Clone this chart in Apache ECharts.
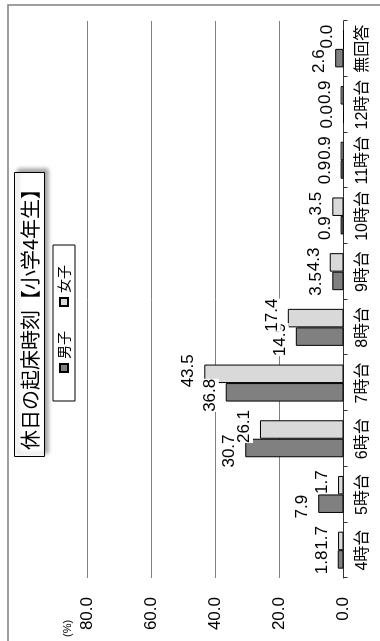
<!DOCTYPE html>
<html>
<head>
<meta charset="utf-8">
<script src="https://cdn.jsdelivr.net/npm/echarts@6/dist/echarts.min.js"></script>
<style>
  html, body { margin: 0; padding: 0; background: #fff; overflow: hidden; }
  /* the chart is drawn lying on its side, then turned upright */
  #chart {
    position: absolute;
    left: 0;
    top: 641px;
    width: 641px;
    height: 380px;
    transform-origin: 0 0;
    transform: rotate(-90deg);
  }
</style>
</head>
<body>
<div id="chart"></div>
<script>
  const categories = ['4時台', '5時台', '6時台', '7時台', '8時台', '9時台', '10時台', '11時台', '12時台', '無回答'];
  const boys  = [1.8, 7.9, 30.7, 36.8, 14.9, 3.5, 0.9, 0.9, 0.0, 2.6];
  const girls = [1.7, 1.7, 26.1, 43.5, 17.4, 4.3, 3.5, 0.9, 0.9, 0.0];
  const valueMin = 0, valueMax = 80, valueStep = 20;

  const font = "'Liberation Sans', 'Noto Sans CJK JP', sans-serif";
  const cjk = "'Noto Sans CJK JP', sans-serif";

  let chart = echarts.init(document.getElementById('chart'));

  // labels of the two bars in a pair are pushed apart a little so they don't overlap
  function barLabel(shift) {
    return {
      show: true,
      position: 'top',
      distance: 7,
      offset: [shift, 0],
      fontFamily: font,
      fontSize: 17,
      color: '#000',
      backgroundColor: '#fff',
      padding: 0,
      formatter: p => p.value.toFixed(1)
    };
  }

  let option = {
    animation: false,
    title: {
      text: '休日の起床時刻【小学4年生】',
      left: 184,
      top: 14,
      padding: [6, 7, 5, 7],
      backgroundColor: '#fff',
      borderColor: '#000',
      borderWidth: 1,
      shadowBlur: 4,
      shadowColor: 'rgba(0,0,0,0.35)',
      shadowOffsetX: 3,
      shadowOffsetY: 3,
      textStyle: { fontFamily: cjk, fontSize: 20, fontWeight: 'normal', color: '#000' }
    },
    legend: {
      data: ['男子', '女子'],
      left: 240,
      top: 53,
      padding: [4, 20, 4, 28],
      itemWidth: 8,
      itemHeight: 8,
      itemGap: 24,
      icon: 'rect',
      borderColor: '#000',
      borderWidth: 1,
      backgroundColor: '#fff',
      textStyle: { fontFamily: cjk, fontSize: 14, color: '#000' }
    },
    grid: { left: 63, right: 21, top: 87.5, bottom: 36.5 },
    xAxis: {
      type: 'category',
      data: categories,
      axisLine: { lineStyle: { color: '#333', width: 1 } },
      axisTick: { show: true, length: 4, lineStyle: { color: '#333' } },
      axisLabel: { margin: 11, fontFamily: font, fontSize: 16, color: '#000', interval: 0 }
    },
    yAxis: {
      type: 'value',
      min: valueMin,
      max: valueMax,
      interval: valueStep,
      axisLine: { show: false },
      axisTick: { show: false },
      splitLine: { lineStyle: { color: '#808080', width: 1 } },
      axisLabel: {
        margin: 19,
        fontFamily: font,
        fontSize: 17,
        color: '#000',
        formatter: v => v.toFixed(1)
      }
    },
    graphic: [
      {
        type: 'rect',
        shape: { x: -10, y: 8, width: 646, height: 392 },
        style: { fill: null, stroke: '#808080', lineWidth: 1.5 },
        silent: true,
        z: -10
      },
      {
        type: 'text',
        left: 4,
        top: 62,
        style: { text: '(%)', fontFamily: font, fontSize: 11, fill: '#000' }
      }
    ],
    series: [
      {
        name: '男子',
        type: 'bar',
        data: boys,
        barWidth: 18.5,
        barGap: '0%',
        itemStyle: { color: '#808080', borderColor: '#000', borderWidth: 1 },
        label: barLabel(-3)
      },
      {
        name: '女子',
        type: 'bar',
        data: girls,
        barWidth: 18.5,
        barGap: '0%',
        itemStyle: { color: '#d9d9d9', borderColor: '#000', borderWidth: 1 },
        label: barLabel(3)
      }
    ]
  };
  chart.setOption(option);
</script>
</body>
</html>
